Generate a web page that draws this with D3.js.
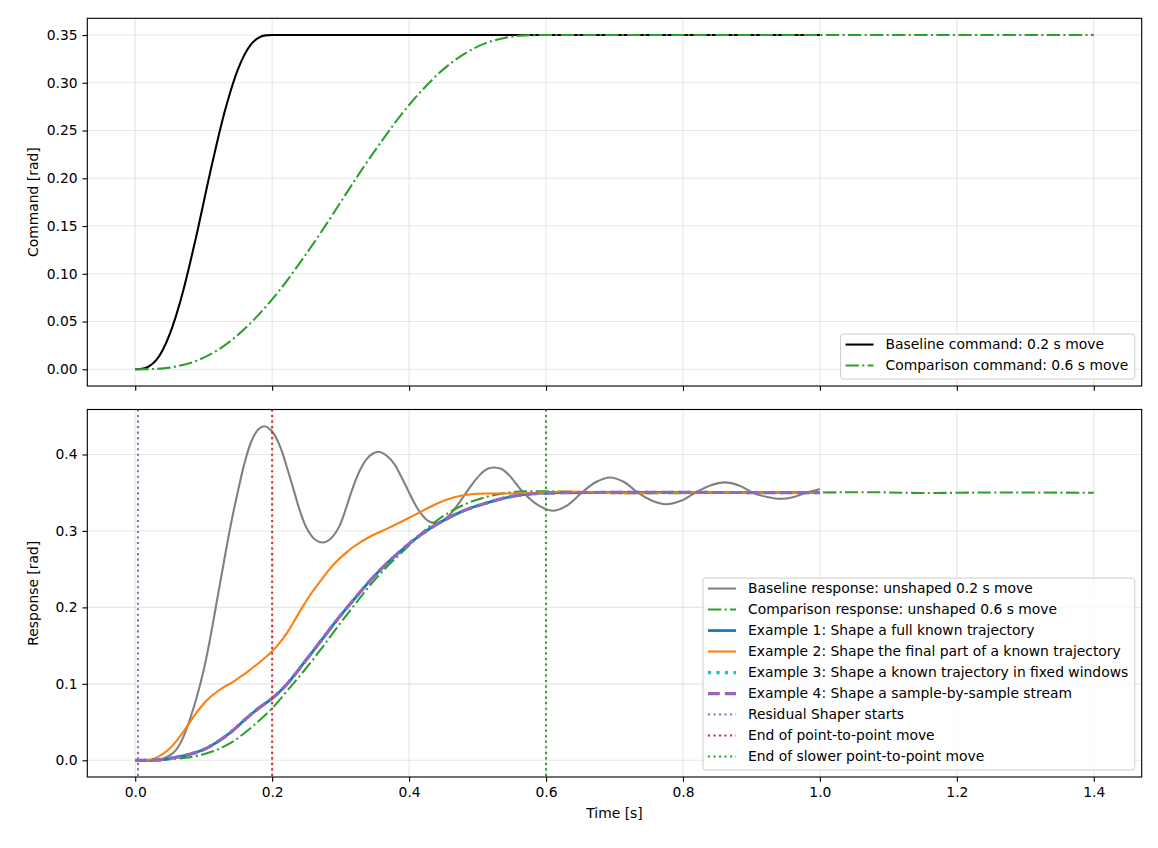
<!DOCTYPE html>
<html>
<head>
<meta charset="utf-8">
<script src="https://cdn.jsdelivr.net/npm/d3@7"></script>
<style>
  body { margin: 0; background: #fff; }
  svg { font-family: "DejaVu Sans", sans-serif; }
</style>
</head>
<body>
<svg id="chart" width="1158" height="848"></svg>
<script>
// ---- data ----
var cmdBaseT = [0, 0.01, 0.02, 0.03, 0.04, 0.05, 0.06, 0.07, 0.08, 0.09, 0.10, 0.11, 0.12, 0.13,
  0.14, 0.15, 0.16, 0.17, 0.18, 0.19, 0.20, 1.0];
var cmdBaseV = [0, 0.0004, 0.003, 0.009, 0.020, 0.036, 0.057, 0.082, 0.111, 0.142, 0.175, 0.208, 0.239, 0.268,
  0.293, 0.314, 0.330, 0.341, 0.347, 0.3496, 0.350, 0.350];

var cmdCompT = [0, 0.03, 0.06, 0.09, 0.12, 0.15, 0.18, 0.21, 0.24, 0.27, 0.30, 0.33, 0.36, 0.39,
  0.42, 0.45, 0.48, 0.51, 0.54, 0.57, 0.60, 1.4];
var cmdCompV = [0, 0.0004, 0.003, 0.009, 0.020, 0.036, 0.057, 0.082, 0.111, 0.142, 0.175, 0.208, 0.239, 0.268,
  0.293, 0.314, 0.330, 0.341, 0.347, 0.3496, 0.350, 0.350];

var baseRespT = [0, 0.02, 0.03, 0.04, 0.05, 0.06, 0.07, 0.08, 0.09, 0.10,
  0.11, 0.12, 0.13, 0.14, 0.15, 0.16, 0.17, 0.18, 0.1885, 0.20,
  0.2118, 0.2216, 0.2313, 0.241, 0.2508, 0.263, 0.2742, 0.285, 0.2975, 0.308,
  0.318, 0.328, 0.338, 0.3465, 0.3555, 0.3677, 0.378, 0.388, 0.398, 0.408,
  0.418, 0.428, 0.437, 0.447, 0.459, 0.47, 0.481, 0.492, 0.503, 0.514,
  0.524, 0.535, 0.546, 0.567, 0.589, 0.61, 0.631, 0.652, 0.673, 0.693,
  0.714, 0.734, 0.755, 0.775, 0.797, 0.818, 0.84, 0.861, 0.882, 0.902,
  0.923, 0.944, 0.962, 0.98, 1.0];
var baseRespV = [0, 0, 0.0005, 0.002, 0.006, 0.014, 0.030, 0.054, 0.083, 0.118,
  0.162, 0.212, 0.262, 0.310, 0.352, 0.390, 0.418, 0.433, 0.437, 0.4300,
  0.410, 0.383, 0.354, 0.325, 0.303, 0.2885, 0.2848, 0.2895, 0.305, 0.330,
  0.357, 0.379, 0.394, 0.401, 0.4035, 0.398, 0.388, 0.372, 0.354, 0.336,
  0.322, 0.313, 0.3105, 0.3125, 0.321, 0.333, 0.347, 0.361, 0.373, 0.381,
  0.383, 0.381, 0.373, 0.350, 0.3335, 0.3265, 0.3335, 0.350, 0.364, 0.370,
  0.364, 0.350, 0.3395, 0.335, 0.3395, 0.350, 0.3595, 0.3635, 0.3595, 0.350,
  0.3445, 0.342, 0.3445, 0.350, 0.355];

var compRespT = [0, 0.02, 0.04, 0.06, 0.08, 0.10, 0.12, 0.14, 0.16, 0.18, 0.20, 0.221, 0.246, 0.271,
  0.295, 0.32, 0.344, 0.368, 0.393, 0.417, 0.441, 0.466, 0.49, 0.515, 0.539, 0.563, 0.588, 0.62,
  0.66, 0.70, 0.80, 0.90, 1.0, 1.07, 1.15, 1.25, 1.32, 1.4];
var compRespV = [0, 0, 0.0005, 0.002, 0.004, 0.008, 0.014, 0.023, 0.036, 0.051, 0.068, 0.090, 0.1165, 0.145,
  0.174, 0.203, 0.230, 0.2535, 0.275, 0.296, 0.314, 0.328, 0.338, 0.345, 0.3495, 0.3515, 0.352, 0.3515,
  0.3505, 0.3495, 0.3495, 0.350, 0.3503, 0.3507, 0.3497, 0.3503, 0.3502, 0.350];

// examples 1, 3 and 4 lie on top of each other in the picture
var shapedT = [0, 0.02, 0.04, 0.06, 0.08, 0.10, 0.12, 0.14, 0.16, 0.18, 0.20, 0.221, 0.246, 0.271,
  0.295, 0.32, 0.344, 0.368, 0.393, 0.417, 0.441, 0.466, 0.49, 0.515, 0.539, 0.563, 0.588, 0.62, 1.0];
var shapedV = [0, 0, 0.001, 0.004, 0.008, 0.014, 0.024, 0.037, 0.053, 0.068, 0.081, 0.099, 0.127, 0.156,
  0.184, 0.211, 0.236, 0.258, 0.278, 0.295, 0.309, 0.321, 0.330, 0.337, 0.343, 0.347, 0.349, 0.350, 0.350];

var ex2T = [0, 0.02, 0.03, 0.04, 0.05, 0.06, 0.07, 0.08, 0.09, 0.10, 0.11, 0.12, 0.13, 0.14, 0.15,
  0.16, 0.17, 0.18, 0.19, 0.20, 0.21, 0.222, 0.234, 0.246, 0.258, 0.271, 0.283, 0.295, 0.31, 0.32,
  0.344, 0.368, 0.393, 0.417, 0.441, 0.466, 0.49, 0.52, 0.56, 0.60, 0.63, 0.66, 0.70, 0.75, 0.80,
  0.85, 0.90, 1.0];
var ex2V = [0, 0.0008, 0.003, 0.008, 0.015, 0.025, 0.037, 0.050, 0.063, 0.074, 0.083, 0.090, 0.096, 0.101, 0.107,
  0.113, 0.120, 0.127, 0.1345, 0.1425, 0.1525, 0.167, 0.185, 0.203, 0.2195, 0.235, 0.249, 0.261, 0.273, 0.280,
  0.293, 0.303, 0.314, 0.325, 0.336, 0.344, 0.348, 0.349, 0.349, 0.3505, 0.3515, 0.351, 0.3495, 0.3495, 0.3505,
  0.3505, 0.350, 0.350];

var markerT = [0.004, 0.2, 0.6];

var xTicks = [0, 0.2, 0.4, 0.6, 0.8, 1.0, 1.2, 1.4];
var topTicks = [0, 0.05, 0.10, 0.15, 0.20, 0.25, 0.30, 0.35];
var botTicks = [0, 0.1, 0.2, 0.3, 0.4];

// ---- layout ----
var pt = 100 / 72;
var fontPx = 10 * pt;
var left = 87.3, right = 1141.7;
var topBox = {top: 18.3, bottom: 386};
var botBox = {top: 409.5, bottom: 777};

var svg = d3.select("#chart");

function padded(values) {
  var ext = d3.extent(values);
  var m = (ext[1] - ext[0]) * 0.05;
  return [ext[0] - m, ext[1] + m];
}

var x = d3.scaleLinear().domain([-0.07, 1.47]).range([left, right]);
var yTop = d3.scaleLinear().domain(padded(cmdBaseV.concat(cmdCompV))).range([topBox.bottom, topBox.top]);
var yBot = d3.scaleLinear()
  .domain(padded(baseRespV.concat(compRespV, shapedV, ex2V)))
  .range([botBox.bottom, botBox.top]);

var dd = function(a) { return a.map(function(v) { return v * 1.5 * pt; }).join(","); };
var styles = {
  cmdBase:  {color: "#000000", width: 1.5 * pt, dash: null},
  cmdComp:  {color: "#2ca02c", width: 1.5 * pt, dash: dd([6.4, 1.6, 1, 1.6])},
  baseResp: {color: "#808080", width: 1.5 * pt, dash: null},
  compResp: {color: "#2ca02c", width: 1.5 * pt, dash: dd([6.4, 1.6, 1, 1.6])},
  ex1:      {color: "#1f77b4", width: 2 * pt, dash: null},
  ex2:      {color: "#ff7f0e", width: 1.5 * pt, dash: null},
  ex3:      {color: "#17becf", width: 2.3 * pt, dash: [2.3 * pt, 3.8 * pt].join(",")},
  ex4:      {color: "#9467bd", width: 2.3 * pt, dash: [8.5 * pt, 3.7 * pt].join(",")},
  mk0:      {color: "#9467bd", width: 1.5 * pt, dash: dd([1, 1.65])},
  mk1:      {color: "#d62728", width: 1.5 * pt, dash: dd([1, 1.65])},
  mk2:      {color: "#2ca02c", width: 1.5 * pt, dash: dd([1, 1.65])}
};

function panel(box, y, ticks, fmt, showXLabels, id) {
  var g = svg.append("g");
  svg.append("clipPath").attr("id", id).append("rect")
    .attr("x", left).attr("y", box.top)
    .attr("width", right - left).attr("height", box.bottom - box.top);

  // grid
  var grid = g.append("g").attr("stroke", "#b0b0b0").attr("stroke-opacity", 0.3)
    .attr("stroke-width", 0.8 * pt);
  grid.selectAll(".gx").data(xTicks).enter().append("line")
    .attr("x1", function(d) { return x(d); }).attr("x2", function(d) { return x(d); })
    .attr("y1", box.top).attr("y2", box.bottom);
  grid.selectAll(".gy").data(ticks).enter().append("line")
    .attr("y1", function(d) { return y(d); }).attr("y2", function(d) { return y(d); })
    .attr("x1", left).attr("x2", right);

  var plot = g.append("g").attr("clip-path", "url(#" + id + ")");

  var xa = d3.axisBottom(x).tickValues(xTicks).tickSize(3.5 * pt).tickPadding(3.5 * pt)
    .tickSizeOuter(0).tickFormat(showXLabels ? d3.format(".1f") : "");
  var ya = d3.axisLeft(y).tickValues(ticks).tickSize(3.5 * pt).tickPadding(3.5 * pt)
    .tickSizeOuter(0).tickFormat(d3.format(fmt));

  var gx = g.append("g").attr("transform", "translate(0," + box.bottom + ")").call(xa);
  var gy = g.append("g").attr("transform", "translate(" + left + ",0)").call(ya);
  [gx, gy].forEach(function(a) {
    a.select(".domain").remove();
    a.selectAll("line").attr("stroke-width", 0.8 * pt);
    a.selectAll("text").attr("font-size", fontPx).attr("fill", "#000")
      .attr("font-family", "DejaVu Sans");
  });

  g.append("rect").attr("x", left).attr("y", box.top)
    .attr("width", right - left).attr("height", box.bottom - box.top)
    .attr("fill", "none").attr("stroke", "#000").attr("stroke-width", 0.8 * pt);
  return plot;
}

function drawLine(plot, y, ts, vs, st, curve) {
  var line = d3.line()
    .x(function(d) { return x(d[0]); })
    .y(function(d) { return y(d[1]); })
    .curve(curve || d3.curveCatmullRom.alpha(0.5));
  plot.append("path").datum(d3.zip(ts, vs))
    .attr("d", line).attr("fill", "none")
    .attr("stroke", st.color).attr("stroke-width", st.width)
    .attr("stroke-dasharray", st.dash)
    .attr("stroke-linejoin", "round");
}

function legend(entries, rightX, bottomY) {
  var g = svg.append("g");
  var rowH = 21;
  var h = entries.length * rowH + 3;
  var topY = bottomY - h;
  var texts = [];
  var maxW = 0;
  var frame = g.append("rect");
  entries.forEach(function(e, i) {
    var t = g.append("text").attr("font-size", fontPx).attr("fill", "#000")
      .attr("dy", "0.35em").attr("y", topY + 10.5 + i * rowH).text(e.label);
    texts.push(t);
    maxW = Math.max(maxW, t.node().getComputedTextLength());
  });
  var w = 5 + 28 + 12 + maxW + 6.5;
  var leftX = rightX - w;
  frame.attr("x", leftX).attr("y", topY).attr("width", w).attr("height", h)
    .attr("rx", 0.2 * fontPx).attr("fill", "#fff").attr("fill-opacity", 0.8)
    .attr("stroke", "#cccccc").attr("stroke-width", 1);
  entries.forEach(function(e, i) {
    var cy = topY + 10.5 + i * rowH;
    texts[i].attr("x", leftX + 5 + 28 + 12);
    g.append("line").attr("x1", leftX + 5).attr("x2", leftX + 5 + 28)
      .attr("y1", cy).attr("y2", cy)
      .attr("stroke", e.st.color).attr("stroke-width", e.st.width)
      .attr("stroke-dasharray", e.st.dash);
  });
}

// ---- top panel: commands ----
var pTop = panel(topBox, yTop, topTicks, ".2f", false, "clipTop");
drawLine(pTop, yTop, cmdBaseT, cmdBaseV, styles.cmdBase, d3.curveMonotoneX);
drawLine(pTop, yTop, cmdCompT, cmdCompV, styles.cmdComp, d3.curveMonotoneX);

// ---- bottom panel: responses ----
var pBot = panel(botBox, yBot, botTicks, ".1f", true, "clipBot");
drawLine(pBot, yBot, baseRespT, baseRespV, styles.baseResp);
drawLine(pBot, yBot, compRespT, compRespV, styles.compResp);
drawLine(pBot, yBot, shapedT, shapedV, styles.ex1);
drawLine(pBot, yBot, ex2T, ex2V, styles.ex2);
drawLine(pBot, yBot, shapedT, shapedV, styles.ex3);
drawLine(pBot, yBot, shapedT, shapedV, styles.ex4);

pBot.selectAll(".marker").data(markerT).enter().append("line")
  .attr("x1", function(d) { return x(d); }).attr("x2", function(d) { return x(d); })
  .attr("y1", botBox.top).attr("y2", botBox.bottom)
  .attr("stroke", function(d, i) { return styles["mk" + i].color; })
  .attr("stroke-width", styles.mk0.width)
  .attr("stroke-dasharray", styles.mk0.dash);

// ---- labels ----
function yLabel(text, cy) {
  svg.append("text").attr("transform", "translate(33," + cy + ") rotate(-90)")
    .attr("text-anchor", "middle").attr("dy", "0.35em")
    .attr("font-size", fontPx).attr("fill", "#000").text(text);
}
yLabel("Command [rad]", (topBox.top + topBox.bottom) / 2);
yLabel("Response [rad]", (botBox.top + botBox.bottom) / 2);
svg.append("text").attr("x", (left + right) / 2).attr("y", 818)
  .attr("text-anchor", "middle").attr("font-size", fontPx).attr("fill", "#000")
  .text("Time [s]");

// ---- legends ----
legend([
  {label: "Baseline command: 0.2 s move", st: styles.cmdBase},
  {label: "Comparison command: 0.6 s move", st: styles.cmdComp}
], right - 0.5 * fontPx, topBox.bottom - 0.5 * fontPx);

legend([
  {label: "Baseline response: unshaped 0.2 s move", st: styles.baseResp},
  {label: "Comparison response: unshaped 0.6 s move", st: styles.compResp},
  {label: "Example 1: Shape a full known trajectory", st: styles.ex1},
  {label: "Example 2: Shape the final part of a known trajectory", st: styles.ex2},
  {label: "Example 3: Shape a known trajectory in fixed windows", st: styles.ex3},
  {label: "Example 4: Shape a sample-by-sample stream", st: styles.ex4},
  {label: "Residual Shaper starts", st: styles.mk0},
  {label: "End of point-to-point move", st: styles.mk1},
  {label: "End of slower point-to-point move", st: styles.mk2}
], right - 0.5 * fontPx, botBox.bottom - 0.5 * fontPx);
</script>
</body>
</html>
